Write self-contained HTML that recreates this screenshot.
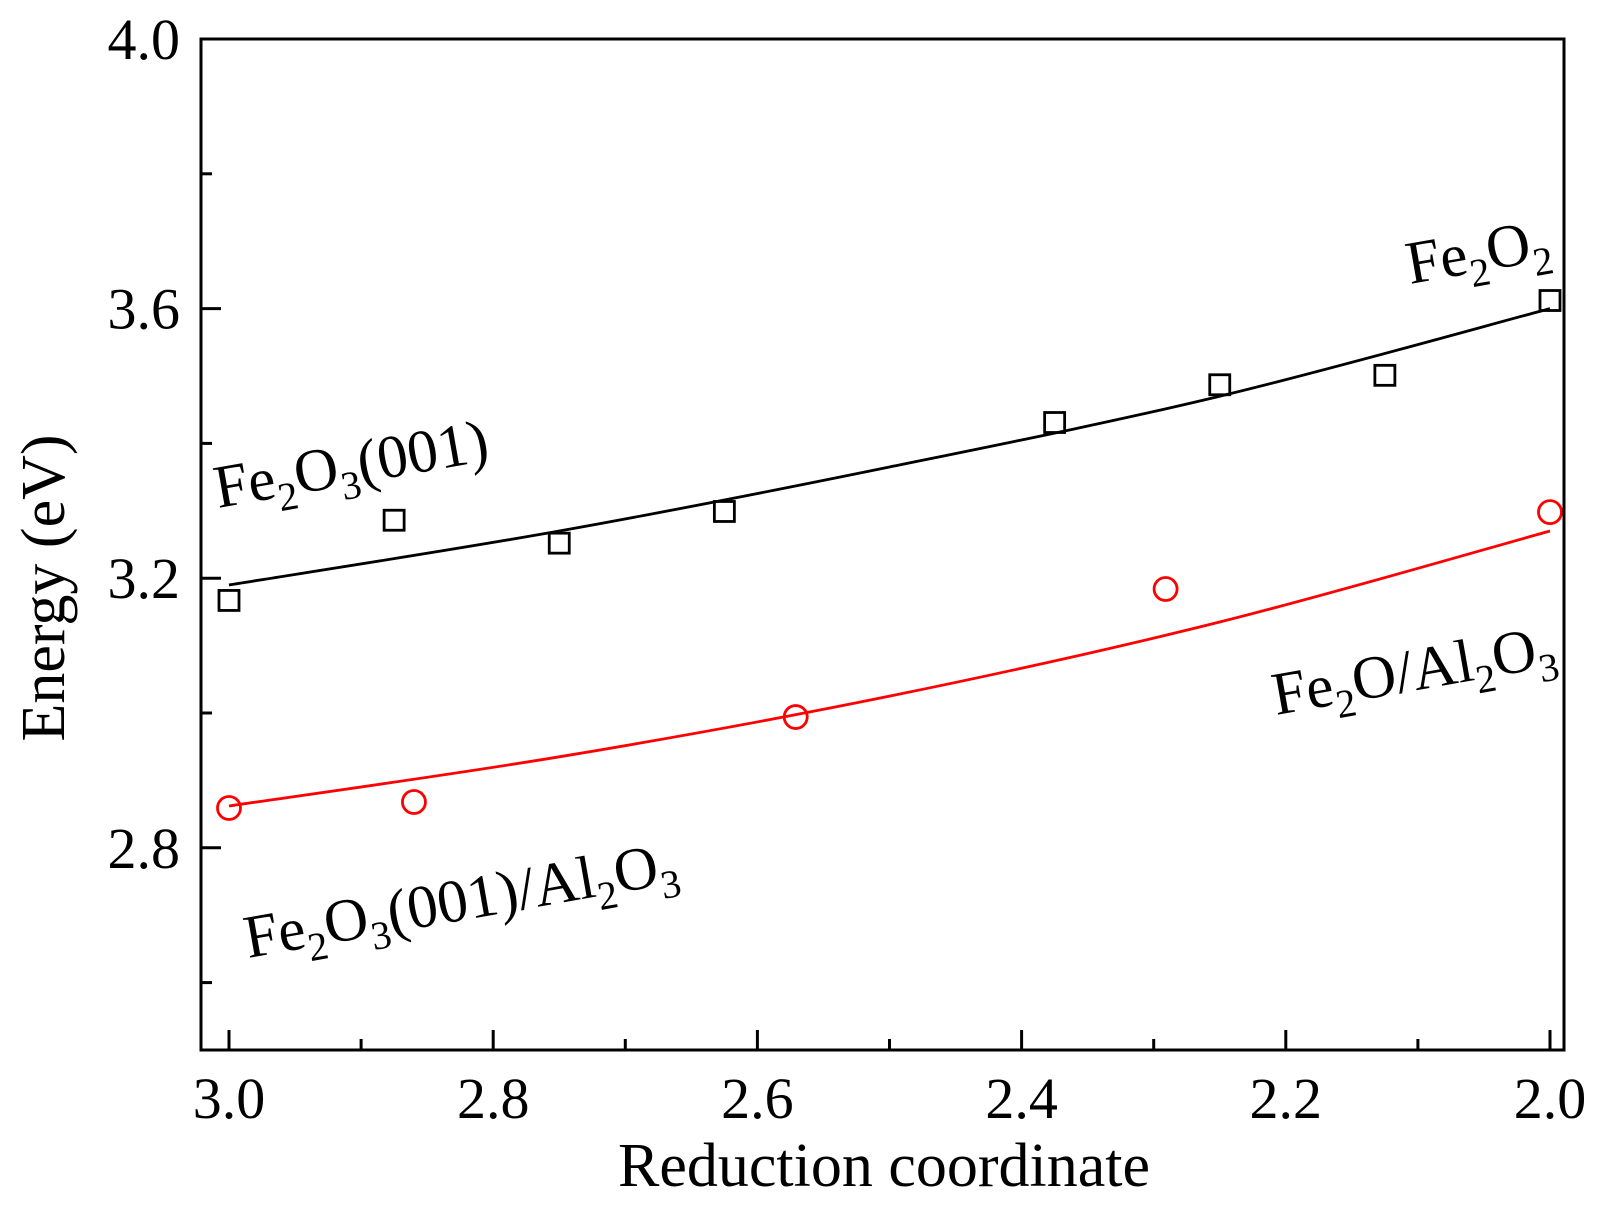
<!DOCTYPE html>
<html><head><meta charset="utf-8"><style>
body{margin:0;background:#fff;}
svg text{font-family:"Liberation Serif",serif;fill:#000;}
</style></head><body>
<svg id="chart" width="1601" height="1202" viewBox="0 0 1601 1202" xmlns="http://www.w3.org/2000/svg">
<g id="marks"></g>
<rect x="201" y="39" width="1363" height="1011" fill="none" stroke="#000" stroke-width="3"/>
<g id="axes"></g>
<text x="884" y="1186" font-size="62" text-anchor="middle">Reduction coordinate</text>
<text transform="translate(64,588) rotate(-90)" font-size="62" text-anchor="middle">Energy (eV)</text>
<g font-size="61">
<text transform="translate(218,508) rotate(-10)">Fe<tspan dy="14" font-size="40">2</tspan><tspan dy="-14">O</tspan><tspan dy="14" font-size="40">3</tspan><tspan dy="-14">(001)</tspan></text>
<text transform="translate(1410,284) rotate(-10)">Fe<tspan dy="14" font-size="40">2</tspan><tspan dy="-14">O</tspan><tspan dy="14" font-size="40">2</tspan></text>
<text transform="translate(1276,715) rotate(-10)">Fe<tspan dy="14" font-size="40">2</tspan><tspan dy="-14">O/Al</tspan><tspan dy="14" font-size="40">2</tspan><tspan dy="-14">O</tspan><tspan dy="14" font-size="40">3</tspan></text>
<text transform="translate(248,958) rotate(-10)">Fe<tspan dy="14" font-size="40">2</tspan><tspan dy="-14">O</tspan><tspan dy="14" font-size="40">3</tspan><tspan dy="-14">(001)/Al</tspan><tspan dy="14" font-size="40">2</tspan><tspan dy="-14">O</tspan><tspan dy="14" font-size="40">3</tspan></text>
</g>
</svg>
<script>
const xTicks=["3.0","2.8","2.6","2.4","2.2","2.0"];
const yTicks=["2.8","3.2","3.6","4.0"];
const sqX=[3.0,2.875,2.75,2.625,2.375,2.25,2.125,2.0];
const sqY=[3.167,3.286,3.252,3.299,3.431,3.487,3.501,3.612];
const ciX=[3.0,2.86,2.571,2.291,2.0];
const ciY=[2.859,2.868,2.994,3.184,3.298];
const fitX=[3.0,2.75,2.5,2.25,2.0];
const fitBlack=[3.19,3.27,3.365,3.47,3.60];
const fitRed=[2.862,2.935,3.025,3.135,3.27];
const NS="http://www.w3.org/2000/svg";
const X=v=>229+(3.0-v)*1321;
const Y=v=>39+(4.0-v)*674;
const marks=document.getElementById('marks'), axes=document.getElementById('axes');
function mk(t,a,p){const e=document.createElementNS(NS,t);for(const k in a)e.setAttribute(k,a[k]);p.appendChild(e);return e;}
for(let i=0;i<=10;i++){const v=3.0-i*0.1;const major=i%2===0;
 const t=mk('line',{x1:X(v),x2:X(v),y1:1050,y2:major?1030:1039,stroke:'#000','stroke-width':3},axes);
 
 }
xTicks.forEach(s=>{const t=mk('text',{x:X(+s),y:1118,'font-size':58,'text-anchor':'middle'},axes);t.textContent=s;
 
 });
for(let v=2.6;v<=4.001;v+=0.2){const major=Math.round(v*10)%4===0;
 const t=mk('line',{x1:201,x2:major?221:212,y1:Y(v),y2:Y(v),stroke:'#000','stroke-width':3},axes);
 
 }
yTicks.forEach(s=>{const t=mk('text',{x:180,y:Y(+s)+20,'font-size':58,'text-anchor':'end'},axes);t.textContent=s;
 
 });
function smooth(xs,ys){const p=xs.map((x,i)=>[X(x),Y(ys[i])]);let d=`M${p[0][0]},${p[0][1]}`;
 for(let i=0;i<p.length-1;i++){const p0=p[i-1]||p[i],p1=p[i],p2=p[i+1],p3=p[i+2]||p2;
 d+=` C${p1[0]+(p2[0]-p0[0])/6},${p1[1]+(p2[1]-p0[1])/6} ${p2[0]-(p3[0]-p1[0])/6},${p2[1]-(p3[1]-p1[1])/6} ${p2[0]},${p2[1]}`;}return d;}
const lb=mk('path',{d:smooth(fitX,fitBlack),fill:'none',stroke:'#000','stroke-width':2.8},marks);


const lr=mk('path',{d:smooth(fitX,fitRed),fill:'none',stroke:'#f00','stroke-width':2.8},marks);


sqX.forEach((x,i)=>{const r=mk('rect',{x:X(x)-10,y:Y(sqY[i])-10,width:20,height:20,fill:'none',stroke:'#000','stroke-width':2.8},marks);
 
 });
ciX.forEach((x,i)=>{const c=mk('circle',{cx:X(x),cy:Y(ciY[i]),r:11.5,fill:'none',stroke:'#f00','stroke-width':2.8},marks);
 
 });
</script>
</body></html>
